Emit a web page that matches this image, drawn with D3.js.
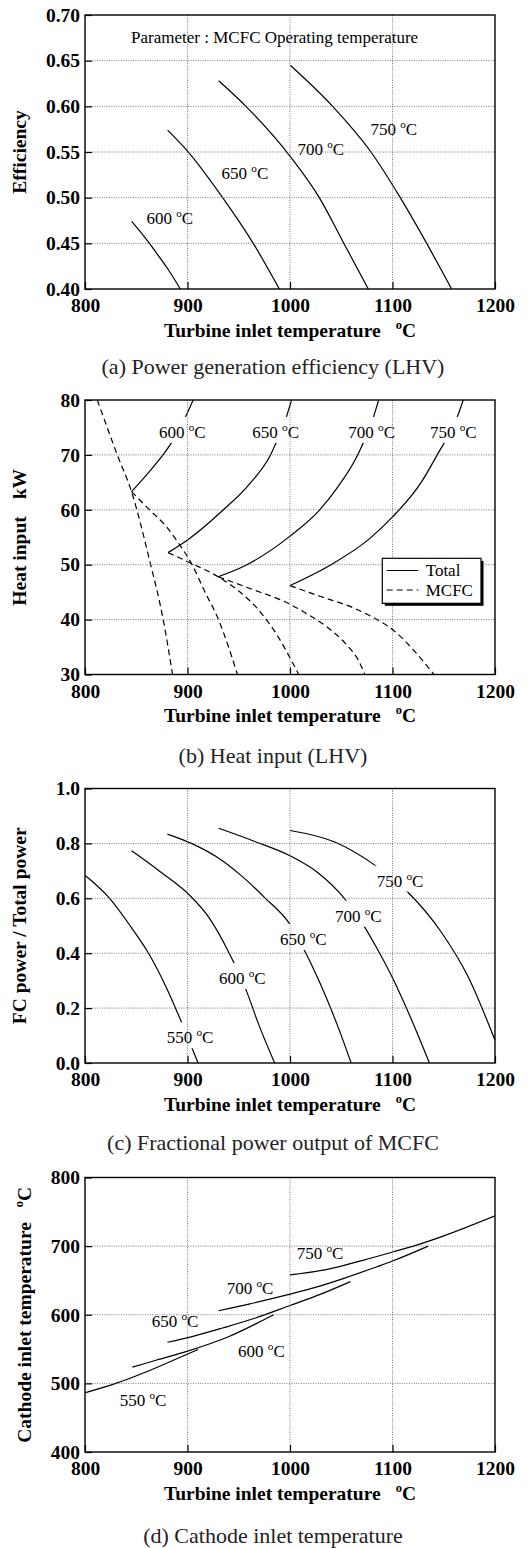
<!DOCTYPE html>
<html><head><meta charset="utf-8">
<script src="https://cdn.jsdelivr.net/npm/d3@7"></script>
<style>body{margin:0;background:#fff}svg{display:block}</style>
</head><body>
<svg id="c" width="528" height="1548"></svg>
<script>
// ---------- data ----------
const titTicks = [800, 900, 1000, 1100, 1200];

// (a) efficiency vs turbine inlet temperature
const effTicks = [0.40, 0.45, 0.50, 0.55, 0.60, 0.65, 0.70];
const eff600 = [[845.5,0.474],[858,0.457],[870,0.439],[882,0.420],[893,0.400]];
const eff650 = [[880.6,0.574],[900,0.551],[934.3,0.500],[965.2,0.448],[989.6,0.400]];
const eff700 = [[930.4,0.628],[957,0.600],[1000.3,0.545],[1028.6,0.500],[1053,0.449],[1076.4,0.400]];
const eff750 = [[1000.3,0.645],[1041.6,0.600],[1079,0.550],[1107.6,0.500],[1134.3,0.448],[1157.7,0.400]];

// (b) heat input
const heatTicks = [30, 40, 50, 60, 70, 80];
const hiTot600 = [[845.4,63.3],[863,67.0],[876,70.0],[884,72.1],[899,77.3],[905.5,80]];
const hiTot650 = [[881,52.2],[900,54.5],[935,60.0],[960,64.6],[981,70.0],[996.6,77.0],[1001.5,80]];
const hiTot700 = [[930,47.8],[956,49.8],[1000,55.2],[1029,60.0],[1046,64.0],[1066,70.0],[1081.6,77.0],[1086.5,80]];
const hiTot750 = [[1000,46.2],[1040,50.0],[1078,54.8],[1100,58.7],[1128,65.0],[1143,69.8],[1164,77.3],[1169,80]];
const hiFc550 = [[812,80],[831.5,70],[845.4,63.3],[863,50.8],[876.3,40],[885.4,30]];
const hiFc600 = [[845.4,63.3],[863.5,59.9],[879.5,56.9],[891.3,53.9],[904.2,50.1],[917.1,45.0],[930,40.1],[939.7,35.2],[948.7,30]];
const hiFc650 = [[881,52.2],[904.2,50.2],[930,47.8],[952.6,44.8],[971.9,41.2],[988,37.0],[1001,32.7],[1008.5,30]];
const hiFc700 = [[930,47.8],[959,45.8],[1000,42.8],[1017,41.0],[1036.5,38.6],[1055.8,35.3],[1067,32.5],[1073,30]];
const hiFc750 = [[1000,46.2],[1030,44.2],[1062.3,42.1],[1084.8,40.0],[1100,38.2],[1120.3,34.5],[1140.5,30]];

// (c) fractional power
const fracTicks = [0.0, 0.2, 0.4, 0.6, 0.8, 1.0];
const fr550 = [[800.5,0.682],[824,0.600],[845,0.495],[862,0.400],[880,0.270],[894,0.150],[904.6,0.053],[910.3,0.0]];
const fr600 = [[845.5,0.773],[873.4,0.697],[900.7,0.616],[921.5,0.527],[940.7,0.400],[956.7,0.270],[969.6,0.139],[985,0.0]];
const fr650 = [[880.4,0.834],[903.8,0.800],[927.9,0.752],[953.5,0.679],[976,0.600],[1000,0.505],[1013.9,0.412],[1030,0.285],[1046.1,0.139],[1059.7,0.0]];
const fr700 = [[930.4,0.855],[965,0.808],[1000,0.755],[1026,0.697],[1053,0.600],[1072.6,0.497],[1084.8,0.418],[1099.4,0.315],[1117.1,0.170],[1136,0.0]];
const fr750 = [[1000,0.847],[1043.7,0.805],[1083.4,0.719],[1114.6,0.624],[1147,0.480],[1173.8,0.314],[1200,0.083]];

// (d) cathode inlet temperature
const catTicks = [400, 500, 600, 700, 800];
const ct550 = [[800.5,486.5],[830,500],[860,517],[885,533],[910.3,549.3]];
const ct600 = [[846.2,523.7],[870,534],[900,547],[940,568],[984,600]];
const ct650 = [[880.4,559.9],[905.4,568.6],[934.3,580.7],[966.3,595.2],[1000,613.5],[1030,630],[1059,648.3]];
const ct700 = [[930.4,605.8],[960,615.5],[1000,630],[1020.3,638],[1052.6,653.1],[1084.8,670],[1100,678.3],[1134.8,700]];
const ct750 = [[1000,658],[1036.5,666.2],[1072,679.7],[1101,691.8],[1123.5,701.4],[1149.4,714.5],[1200,744]];

// curve label anchors (data units)
const labA = [["600",860,0.4712],["650",933.2,0.5204],["700",1007.3,0.5462],["750",1078.5,0.5686]];
const labB = [["600",872.2,73.1],["650",963.2,73.1],["700",1056.9,73.1],["750",1136.6,73.1]];
const labC = [["550",879.7,0.0718],["600",930.7,0.2878],["650",990.2,0.4299],["700",1043.9,0.5148],["750",1084.6,0.6423]];
const labD = [["550",833.9,467.5],["600",949.3,538.9],["650",865.1,582.6],["700",938.2,630.2],["750",1006.5,681.2]];

// ---------- drawing ----------
const SERIF = "'Liberation Serif','Times New Roman',Times,serif";
const svg = d3.select("#c");
svg.append("rect").attr("width",528).attr("height",1548).attr("fill","#fff");
const x = d3.scaleLinear().domain([800,1200]).range([85,495]);

const panels = [
  {id:"a", top:15, bottom:289, dom:[0.40,0.70], ticks:effTicks, fmt:d3.format(".2f"),
   ylab:"Efficiency", ylabX:26, caption:"(a) Power generation efficiency (LHV)", capY:373.5,
   series:[[eff600,false],[eff650,false],[eff700,false],[eff750,false]], labels:labA, knock:false},
  {id:"b", top:400, bottom:674.5, dom:[30,80], ticks:heatTicks, fmt:d3.format("d"),
   ylab:"Heat input", yunit:"kW", ylabX:26, caption:"(b) Heat input (LHV)", capY:762.7,
   series:[[hiTot600,false],[hiTot650,false],[hiTot700,false],[hiTot750,false],
           [hiFc550,true],[hiFc600,true],[hiFc650,true],[hiFc700,true],[hiFc750,true]],
   labels:labB, knock:true, legend:true},
  {id:"c", top:788.5, bottom:1063, dom:[0,1], ticks:fracTicks, fmt:d3.format(".1f"),
   ylab:"FC power / Total power", ylabX:26, caption:"(c) Fractional power output of MCFC", capY:1149.5,
   series:[[fr550,false],[fr600,false],[fr650,false],[fr700,false],[fr750,false]], labels:labC, knock:true},
  {id:"d", top:1177.5, bottom:1452, dom:[400,800], ticks:catTicks, fmt:d3.format("d"),
   ylab:"Cathode inlet temperature", ydeg:true, ylabX:31, caption:"(d) Cathode inlet temperature", capY:1543,
   series:[[ct550,false],[ct600,false],[ct650,false],[ct700,false],[ct750,false]], labels:labD, knock:false}
];

function degText(sel, num, size){
  sel.append("tspan").text(num + " ");
  sel.append("tspan").attr("font-size", size*0.66).attr("dy", -size*0.42).text("o");
  sel.append("tspan").attr("dy", size*0.42).text("C");
}

panels.forEach(p => {
  const y = d3.scaleLinear().domain(p.dom).range([p.bottom, p.top]);
  const g = svg.append("g").attr("class","panel-"+p.id);
  const clipId = "clip-"+p.id;
  g.append("clipPath").attr("id",clipId).append("rect")
    .attr("x",x.range()[0]).attr("y",p.top).attr("width",x.range()[1]-x.range()[0]).attr("height",p.bottom-p.top);

  // curves
  const line = d3.line().x(d=>x(d[0])).y(d=>y(d[1])).curve(d3.curveMonotoneX);
  const cg = g.append("g").attr("clip-path",`url(#${clipId})`);
  p.series.forEach(([d,dashed]) => {
    cg.append("path").datum(d).attr("d",line).attr("fill","none")
      .attr("stroke","#000").attr("stroke-width",1.2)
      .attr("stroke-dasharray", dashed ? "6,4" : null);
  });

  // labels (with knockout gaps in the curves where the original breaks them)
  const lg = g.append("g");
  const labelSel = [];
  p.labels.forEach(([n,t,v]) => {
    const tx = lg.append("text").attr("x",x(t)).attr("y",y(v))
      .attr("font-family",SERIF).attr("font-size",17).attr("fill","#000");
    degText(tx, n, 17);
    labelSel.push(tx);
  });
  if (p.knock) {
    labelSel.forEach(tx => {
      const bb = tx.node().getBBox();
      const by = +tx.attr("y");
      cg.append("rect").attr("x",bb.x-2).attr("y",by-21).attr("width",bb.width+4).attr("height",26).attr("fill","#fff");
    });
  }

  // grid
  const gg = g.append("g").attr("stroke","#555").attr("stroke-width",0.8).attr("stroke-dasharray","1,1.4");
  titTicks.slice(1,-1).forEach(t => gg.append("line").attr("x1",x(t)).attr("x2",x(t)).attr("y1",p.top).attr("y2",p.bottom));
  p.ticks.slice(1,-1).forEach(v => gg.append("line").attr("x1",x.range()[0]).attr("x2",x.range()[1]).attr("y1",y(v)).attr("y2",y(v)));

  // axes (inward ticks)
  const ax = g.append("g").attr("transform",`translate(0,${p.bottom})`)
    .call(d3.axisBottom(x).tickValues(titTicks).tickFormat(d3.format("d")).tickSizeInner(-7).tickSizeOuter(0).tickPadding(9.5));
  const ay = g.append("g").attr("transform",`translate(${x.range()[0]},0)`)
    .call(d3.axisLeft(y).tickValues(p.ticks).tickFormat(p.fmt).tickSizeInner(-7).tickSizeOuter(0).tickPadding(5));
  [ax,ay].forEach(a => {
    a.select(".domain").remove();
    a.selectAll(".tick line").attr("stroke","#000").attr("stroke-width",1.2);
    a.selectAll(".tick text").attr("font-family",SERIF).attr("font-weight","bold").attr("font-size",19.5).attr("fill","#000");
  });

  // frame
  g.append("rect").attr("x",x.range()[0]).attr("y",p.top).attr("width",x.range()[1]-x.range()[0]).attr("height",p.bottom-p.top)
    .attr("fill","none").attr("stroke","#000").attr("stroke-width",1.4);

  // x title
  const xt = g.append("text").attr("x",290).attr("y",p.bottom+47.5).attr("text-anchor","middle")
    .attr("font-family",SERIF).attr("font-weight","bold").attr("font-size",19.5).attr("fill","#000");
  xt.append("tspan").text("Turbine inlet temperature");
  xt.append("tspan").attr("dx",15).attr("dy",-8).attr("font-size",12.5).text("o");
  xt.append("tspan").attr("dy",8).text("C");

  // y title
  const yt = g.append("text").attr("transform",`translate(${p.ylabX},${(p.top+p.bottom)/2}) rotate(-90)`)
    .attr("text-anchor","middle").attr("font-family",SERIF).attr("font-weight","bold").attr("font-size",19.5).attr("fill","#000");
  yt.append("tspan").text(p.ylab);
  if (p.yunit) yt.append("tspan").attr("dx",17).text(p.yunit);
  if (p.ydeg) {
    yt.append("tspan").attr("dx",15).attr("dy",-8).attr("font-size",12.5).text("o");
    yt.append("tspan").attr("dy",8).text("C");
  }

  // caption
  g.append("text").attr("x",273).attr("y",p.capY).attr("text-anchor","middle")
    .attr("font-family",SERIF).attr("font-size",22).attr("fill","#222").text(p.caption);

  if (p.id === "a") {
    g.append("text").attr("x",x(985)).attr("y",y(0.669)).attr("text-anchor","middle")
      .attr("font-family",SERIF).attr("font-size",17).attr("fill","#000").text("Parameter : MCFC Operating temperature");
  }

  if (p.legend) {
    const L = g.append("g");
    L.append("rect").attr("x",384.8).attr("y",560.8).attr("width",98.7).attr("height",45).attr("fill","#000");
    L.append("rect").attr("x",382.3).attr("y",558.3).attr("width",98.7).attr("height",45).attr("fill","#fff").attr("stroke","#000").attr("stroke-width",1.2);
    const items = [["Total",false],["MCFC",true]];
    items.forEach(([name,dashed],i) => {
      const yy = 570.5 + i*19.5;
      L.append("line").attr("x1",386.7).attr("x2",418.3).attr("y1",yy).attr("y2",yy)
        .attr("stroke","#000").attr("stroke-width",1.2).attr("stroke-dasharray",dashed?"6,4":null);
      L.append("text").attr("x",425.7).attr("y",yy+5.5).attr("font-family",SERIF).attr("font-size",17).attr("fill","#000").text(name);
    });
  }
});
</script>
</body></html>
